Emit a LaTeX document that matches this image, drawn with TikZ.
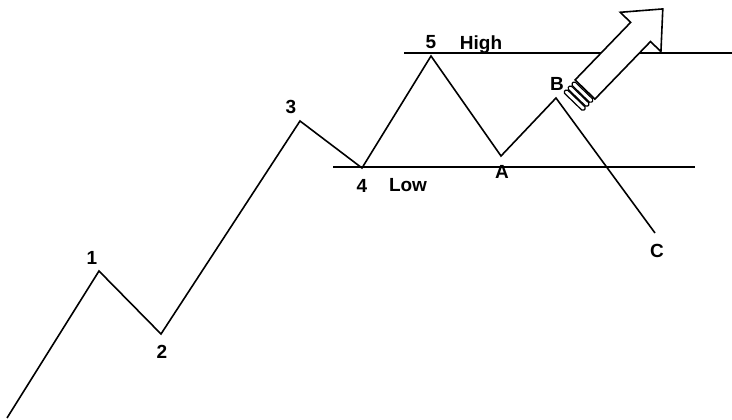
\documentclass[tikz,border=0pt]{standalone}
\usepackage{fontspec}
\setmainfont{Liberation Sans}
\usetikzlibrary{positioning}
\tikzset{
  wave/.style ={line width=1.6pt, line join=miter},
  lvl/.style  ={line width=1.3pt},
  lbl/.style  ={font=\bfseries\fontsize{19}{21}\selectfont, inner sep=0pt},
  hollow/.style={line width=1.6pt, line join=miter, fill=white},
  band/.style ={line width=1.2pt, rounded corners=1.5pt, fill=white},
}
\begin{document}
\begin{tikzpicture}[x=1pt, y=-1pt]
\useasboundingbox (0,0) rectangle (732,420);
% wave points
\coordinate (w0) at (7,418);
\coordinate (w1) at (99,271);
\coordinate (w2) at (161,334);
\coordinate (w3) at (300,121);
\coordinate (w4) at (362,168);
\coordinate (w5) at (431,56);
\coordinate (wa) at (501,156);
\coordinate (wb) at (556,98);
\coordinate (wc) at (655,233);
% high and low levels
\coordinate (hi0) at (404,53);  \coordinate (hi1) at (732,53);
\coordinate (lo0) at (333,167); \coordinate (lo1) at (695,167);
\draw[lvl] (hi0) -- (hi1);
\draw[lvl] (lo0) -- (lo1);
\draw[wave] (w0) -- (w1) -- (w2) -- (w3) -- (w4) -- (w5) -- (wa) -- (wb) -- (wc);
% labels
\node[lbl] (l1) at (92,258) {1};
\node[lbl] (l2) at (162,352) {2};
\node[lbl] (l3) at (291,107) {3};
\node[lbl] (l4) at (362,186) {4};
\node[lbl] (low) at (408,185) {Low};
\node[lbl] (l5) at (431,42) {5};
\node[lbl] (high) at (481,45) {High};
\node[lbl] (la) at (502,172) {A};
\node[lbl] (lb) at (557,84) {B};
\node[lbl] (lc) at (657,251) {C};
% breakout arrow
\begin{scope}[shift={(585,89.5)}, rotate=46]
  \draw[hollow] (0,-13.8) -- (80,-13.8) -- (80,-28.3) -- (112,0)
    -- (80,28.3) -- (80,13.8) -- (0,13.8) -- cycle;
  \foreach \u in {-1.5,-7,-12.5}
    \draw[band] (\u,-13.5) rectangle (\u-4.5,13.5);
\end{scope}
\end{tikzpicture}
\end{document}
